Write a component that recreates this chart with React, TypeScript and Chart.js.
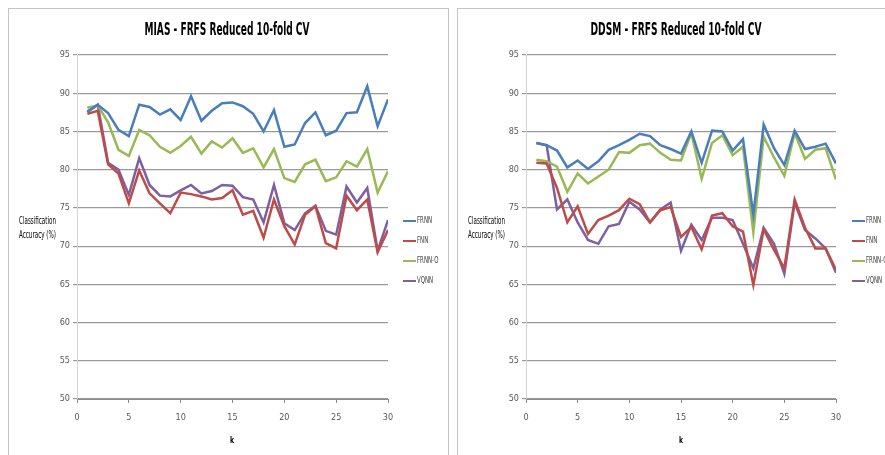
import React, { useEffect, useRef } from "react";
import { Chart, registerables } from "chart.js";

Chart.register(...registerables);

const K = [1,2,3,4,5,6,7,8,9,10,11,12,13,14,15,16,17,18,19,20,21,22,23,24,25,26,27,28,29,30];
const X_TICKS = [0, 5, 10, 15, 20, 25, 30];
const Y_TICKS = [50, 55, 60, 65, 70, 75, 80, 85, 90, 95];
const SERIES_NAMES = ["FRNN", "FNN", "FRNN-O", "VQNN"];
const SERIES_COLORS = ["#4a7ebb", "#be4b48", "#98b954", "#7d60a0"];

const MIAS_FRNN = [87.6,88.5,87.4,85.2,84.4,88.5,88.2,87.2,87.9,86.5,89.6,86.4,87.7,88.7,88.8,88.3,87.3,85.0,87.8,83.0,83.3,86.1,87.5,84.5,85.1,87.4,87.5,90.9,85.7,89.2];
const MIAS_FNN = [87.3,87.7,80.7,79.5,75.6,79.9,76.9,75.6,74.3,77.0,76.8,76.5,76.1,76.3,77.3,74.1,74.6,71.1,76.1,72.6,70.2,74.1,75.2,70.4,69.7,76.6,74.7,76.1,69.2,72.1];
const MIAS_FRNNO = [88.1,88.4,86.2,82.6,81.8,85.2,84.5,83.0,82.2,83.1,84.3,82.1,83.7,82.9,84.1,82.2,82.8,80.3,82.7,78.9,78.4,80.7,81.3,78.5,79.0,81.1,80.4,82.7,77.0,79.8];
const MIAS_VQNN = [87.5,88.5,80.9,80.0,76.7,81.5,78.0,76.6,76.5,77.3,78.0,76.9,77.2,78.0,77.9,76.4,76.1,73.1,78.0,73.0,72.1,74.3,75.3,72.0,71.5,77.8,75.7,77.6,69.4,73.4];

const DDSM_FRNN = [83.5,83.2,82.5,80.3,81.2,80.1,81.1,82.6,83.2,83.9,84.7,84.4,83.2,82.7,82.1,85.0,80.9,85.1,85.0,82.5,84.0,74.1,85.9,82.8,80.6,85.1,82.7,83.0,83.4,80.8];
const DDSM_FNN = [80.9,80.8,77.6,73.1,75.2,71.6,73.4,74.0,74.7,76.2,75.5,73.1,74.7,75.1,71.2,72.5,69.6,74.0,74.3,72.6,71.9,64.9,72.2,69.5,67.1,76.1,72.4,69.7,69.7,66.9];
const DDSM_FRNNO = [81.3,81.1,80.4,77.1,79.5,78.2,79.1,80.0,82.3,82.2,83.2,83.4,82.2,81.3,81.2,84.8,78.8,83.5,84.5,81.9,83.0,71.8,84.3,81.6,79.2,84.8,81.4,82.6,82.8,78.7];
const DDSM_VQNN = [83.5,83.2,74.8,76.1,73.1,70.8,70.3,72.6,72.9,75.8,74.8,73.1,74.8,75.7,69.4,72.8,70.8,73.7,73.7,73.4,70.3,67.1,72.4,70.3,66.4,75.7,72.1,71.0,69.7,66.5];

const FONT = "'Liberation Sans Narrow', 'DejaVu Sans Condensed', 'Arial Narrow', sans-serif";

function drawFitted(ctx: CanvasRenderingContext2D, text: string, cx: number, y: number, font: string, width: number, color: string) {
  ctx.save();
  ctx.font = font;
  ctx.fillStyle = color;
  ctx.textAlign = "center";
  ctx.textBaseline = "alphabetic";
  const w = ctx.measureText(text).width || 1;
  ctx.translate(cx, y);
  ctx.scale(width / w, 1);
  ctx.fillText(text, 0, 0);
  ctx.restore();
}

function makeChart(canvas: HTMLCanvasElement, title: string, titleWidth: number, series: number[][], padRight: number) {
  const decor = {
    id: "decor",
    afterDraw(chart: any) {
      const ctx = chart.ctx as CanvasRenderingContext2D;
      drawFitted(ctx, title, 218, 26, `bold 17px ${FONT}`, titleWidth, "#000");
      drawFitted(ctx, "Classification", 28.5, 215, `10px ${FONT}`, 37, "#000");
      drawFitted(ctx, "Accuracy (%)", 28.5, 229, `10px ${FONT}`, 37, "#000");
      drawFitted(ctx, "k", 223, 434, `bold 9px ${FONT}`, 4, "#000");
      ctx.save();
      ctx.font = `9px ${FONT}`;
      const sx = 15 / (ctx.measureText("FRNN").width || 15);
      SERIES_NAMES.forEach((name, i) => {
        const y = 212 + i * 20;
        ctx.strokeStyle = SERIES_COLORS[i];
        ctx.lineWidth = 2;
        ctx.beginPath();
        ctx.moveTo(394, y);
        ctx.lineTo(407, y);
        ctx.stroke();
        ctx.save();
        ctx.fillStyle = "#404040";
        ctx.textBaseline = "middle";
        ctx.textAlign = "left";
        ctx.translate(408, y);
        ctx.scale(sx, 1);
        ctx.fillText(name, 0, 0);
        ctx.restore();
      });
      ctx.restore();
    },
  };

  return new Chart(canvas, {
    type: "line",
    data: {
      datasets: series.map((vals, i) => ({
        label: SERIES_NAMES[i],
        data: K.map((k, j) => ({ x: k, y: vals[j] })),
        borderColor: SERIES_COLORS[i],
        backgroundColor: SERIES_COLORS[i],
        borderWidth: 2.5,
        pointRadius: 0,
        tension: 0,
        fill: false,
      })),
    },
    options: {
      animation: false,
      responsive: false,
      maintainAspectRatio: false,
      events: [],
      layout: { padding: { left: 0, right: padRight, top: 46, bottom: 0 } },
      plugins: {
        legend: { display: false },
        title: { display: false },
        tooltip: { enabled: false },
      },
      scales: {
        x: {
          type: "linear",
          min: 0,
          max: 30,
          afterBuildTicks: (s: any) => { s.ticks = X_TICKS.map((v) => ({ value: v })); },
          afterFit: (s: any) => { s.height = 56; },
          ticks: { color: "#595959", font: { family: FONT, size: 9 }, padding: 9, maxRotation: 0, autoSkip: false },
          grid: { drawOnChartArea: false, drawTicks: true, tickLength: 4, color: "#8c8c8c" },
          border: { color: "#8c8c8c", width: 1 },
        },
        y: {
          type: "linear",
          min: 50,
          max: 95,
          afterBuildTicks: (s: any) => { s.ticks = Y_TICKS.map((v) => ({ value: v })); },
          afterFit: (s: any) => { s.width = 68; },
          ticks: { color: "#595959", font: { family: FONT, size: 9 }, padding: 3, autoSkip: false },
          grid: { color: "#9a9a9a", lineWidth: 1.2, tickLength: 4 },
          border: { color: "#d4d4d4", width: 1 },
        },
      },
    } as any,
    plugins: [decor],
  });
}

export default function App() {
  const leftRef = useRef<HTMLCanvasElement>(null);
  const rightRef = useRef<HTMLCanvasElement>(null);

  useEffect(() => {
    const root = document.getElementById("root");
    if (root) { root.style.width = "877px"; root.style.height = "447px"; }
    document.body.style.marginRight = "0px";
    document.body.style.marginBottom = "0px";
    const a = makeChart(leftRef.current!, "MIAS - FRFS Reduced 10-fold CV", 165, [MIAS_FRNN, MIAS_FNN, MIAS_FRNNO, MIAS_VQNN], 60);
    const b = makeChart(rightRef.current!, "DDSM - FRFS Reduced 10-fold CV", 171, [DDSM_FRNN, DDSM_FNN, DDSM_FRNNO, DDSM_VQNN], 62);
    return () => { a.destroy(); b.destroy(); };
  }, []);

  const box: React.CSSProperties = {
    position: "absolute",
    top: 0,
    border: "1px solid #c4c4c4",
    background: "#fff",
    height: 460,
  };

  return (
    <div style={{ position: "relative", width: 877, height: 447, overflow: "hidden", background: "#fff" }}>
      <div style={{ ...box, left: 0, width: 439 }}>
        <canvas ref={leftRef} width={439} height={446} style={{ display: "block", width: 439, height: 446 }} />
      </div>
      <div style={{ ...box, left: 449, width: 440 }}>
        <canvas ref={rightRef} width={440} height={446} style={{ display: "block", width: 440, height: 446 }} />
      </div>
    </div>
  );
}
